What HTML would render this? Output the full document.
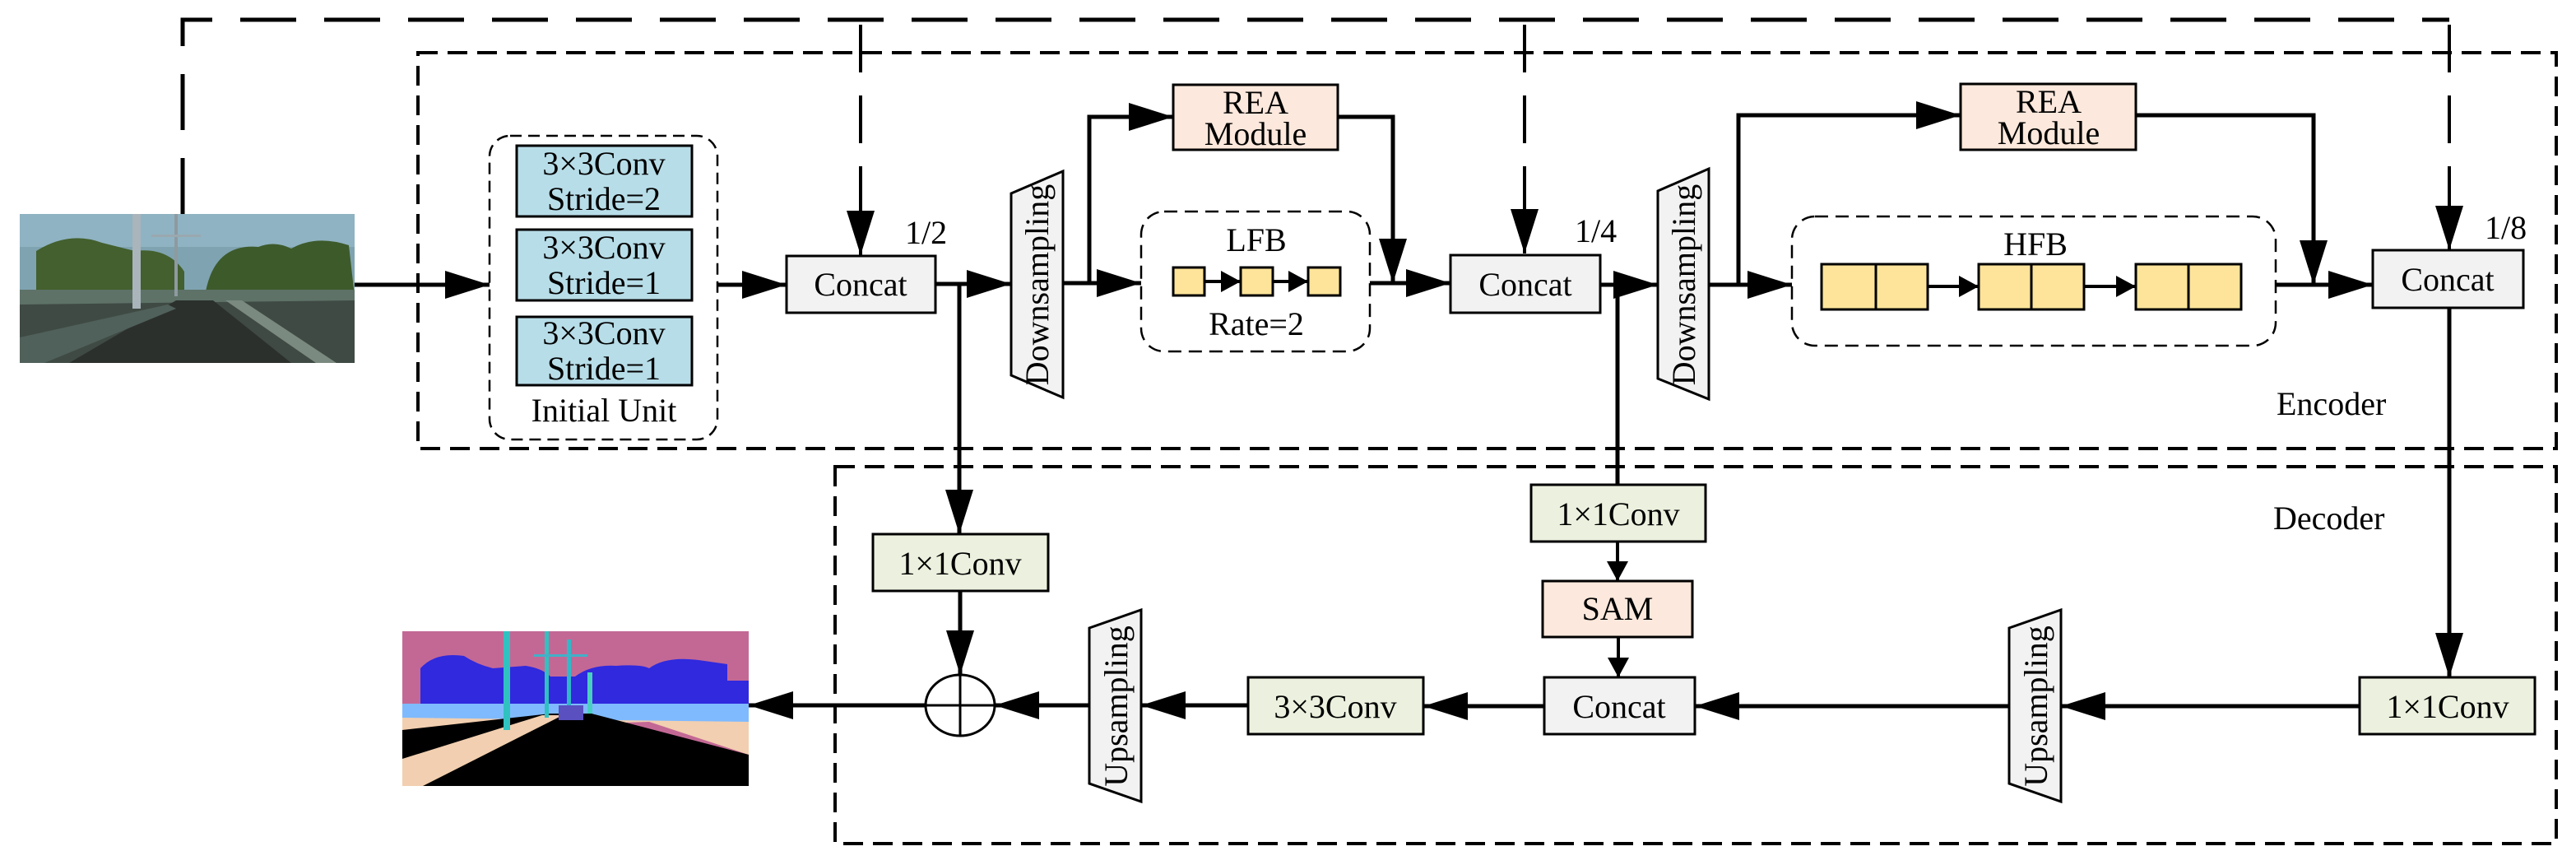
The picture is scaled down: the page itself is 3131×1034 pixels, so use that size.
<!DOCTYPE html>
<html><head><meta charset="utf-8"><style>
html,body{margin:0;padding:0;background:#fff;}
svg{display:block;}
svg text{font-family:"Liberation Serif","Times New Roman",serif;font-size:40px;fill:#000;}
</style></head><body>
<svg width="3131" height="1034" viewBox="0 0 3131 1034" xmlns="http://www.w3.org/2000/svg" font-family="Liberation Serif, serif">
<defs>
<marker id="A" markerUnits="userSpaceOnUse" markerWidth="56" markerHeight="34" refX="54" refY="17" orient="auto"><path d="M0,0 L54,17 L0,34 Z" fill="#000"/></marker>
<marker id="S" markerUnits="userSpaceOnUse" markerWidth="26" markerHeight="26" refX="24" refY="13" orient="auto"><path d="M0,0 L24,13 L0,26 Z" fill="#000"/></marker>
</defs>

<!-- input image -->
<g transform="translate(24,260)">
<rect width="407" height="181" fill="#7fa3b0"/>
<rect y="0" width="407" height="40" fill="#8fb3c2"/>
<path d="M20,100 L20,45 Q60,20 100,35 L140,45 Q180,40 200,70 L200,100 Z" fill="#43602e"/>
<path d="M225,100 Q235,35 290,40 Q310,32 330,42 Q360,25 400,38 L407,100 Z" fill="#3d5a2b"/>
<rect x="0" y="92" width="407" height="25" fill="#5e7268"/>
<path d="M0,110 L407,105 L407,181 L0,181 Z" fill="#3f4a44"/>
<path d="M190,105 L235,105 L330,181 L60,181 Z" fill="#2c302d"/>
<path d="M250,105 L270,105 L385,181 L360,181 Z" fill="#7b8a80"/>
<path d="M0,150 L180,110 L190,115 L30,181 L0,181 Z" fill="#50605a"/>
<rect x="137" y="0" width="10" height="115" fill="#a9b5bb"/>
<rect x="188" y="0" width="4" height="100" fill="#8e9aa0"/>
<rect x="160" y="25" width="60" height="3" fill="#9aa8b0"/>
</g>
<!-- output image -->
<g transform="translate(489,767)">
<rect width="421" height="188" fill="#c36895"/>
<path d="M22,100 L22,45 Q40,25 75,30 Q90,40 110,45 L150,42 Q170,45 180,55 L210,55 Q230,40 260,42 Q290,40 300,45 Q320,30 360,35 L395,40 L395,60 L421,60 L421,95 Z" fill="#3029de"/>
<rect x="0" y="88" width="421" height="22" fill="#7fbaff"/>
<path d="M0,105 L421,110 L421,150 L300,110 L0,120 Z" fill="#f2cfb0"/>
<path d="M0,120 L180,100 L230,100 L421,150 L421,188 L30,188 L0,188 Z" fill="#000"/>
<path d="M0,155 L170,102 L195,102 L25,188 L0,188 Z" fill="#f2cfb0"/>
<rect x="123" y="0" width="8" height="120" fill="#30c2c0"/>
<rect x="173" y="0" width="5" height="105" fill="#30c2c0"/>
<rect x="200" y="10" width="5" height="95" fill="#30b8c8"/>
<rect x="225" y="50" width="6" height="50" fill="#4ad0c0"/>
<rect x="160" y="28" width="65" height="3" fill="#42b0c8"/>
<rect x="190" y="90" width="30" height="18" fill="#5a50c0"/>
</g>

<path d="M222,260 V24 H2977" fill="none" stroke="#000" stroke-width="5" stroke-dasharray="68,34"/>
<path d="M1046,30 V250" stroke="#000" stroke-width="4" stroke-dasharray="58,28" fill="none"/>
<path d="M1853,30 V250" stroke="#000" stroke-width="4" stroke-dasharray="58,28" fill="none"/>
<path d="M2977,30 V250" stroke="#000" stroke-width="4" stroke-dasharray="58,28" fill="none"/>
<path d="M1046,250 V310" stroke="#000" stroke-width="4" marker-end="url(#A)"/>
<path d="M1853,250 V308" stroke="#000" stroke-width="4" marker-end="url(#A)"/>
<path d="M2977,250 V304" stroke="#000" stroke-width="4" marker-end="url(#A)"/>

<rect x="508" y="64" width="2599" height="481" fill="none" stroke="#000" stroke-width="4" stroke-dasharray="24,12"/>
<rect x="1015" y="567" width="2092" height="458" fill="none" stroke="#000" stroke-width="4" stroke-dasharray="24,12"/>
<text x="2767" y="504">Encoder</text>
<text x="2763" y="643">Decoder</text>

<rect x="595" y="165" width="277" height="369" rx="25" fill="none" stroke="#000" stroke-width="2.5" stroke-dasharray="14,8"/>
<g fill="#b7dde8" stroke="#000" stroke-width="3">
<rect x="628" y="177" width="213" height="86"/>
<rect x="628" y="279" width="213" height="86"/>
<rect x="628" y="385" width="213" height="83"/>
</g>
<g text-anchor="middle">
<text x="734" y="212">3×3Conv</text><text x="734" y="255">Stride=2</text>
<text x="734" y="314">3×3Conv</text><text x="734" y="357">Stride=1</text>
<text x="734" y="418">3×3Conv</text><text x="734" y="461">Stride=1</text>
<text x="734" y="512">Initial Unit</text>
</g>

<g stroke="#000" stroke-width="5" fill="none">
<path d="M431,346 H595" marker-end="url(#A)"/>
<path d="M872,346 H956" marker-end="url(#A)"/>
<path d="M1137,345 H1229" marker-end="url(#A)"/>
<path d="M1166,345 V649" marker-end="url(#A)"/>
<path d="M1292,344 H1387" marker-end="url(#A)"/>
<path d="M1324,344 V142 H1426" marker-end="url(#A)"/>
<path d="M1626,142 H1693 V344" marker-end="url(#A)"/>
<path d="M1665,344 H1763" marker-end="url(#A)"/>
<path d="M1945,346 H2015" marker-end="url(#A)"/>
<path d="M1966,346 V589"/>
<path d="M2077,346 H2178" marker-end="url(#A)"/>
<path d="M2113,346 V140 H2383" marker-end="url(#A)"/>
<path d="M2596,140 H2812 V346" marker-end="url(#A)"/>
<path d="M2766,346 H2884" marker-end="url(#A)"/>
<path d="M2977,374 V823" marker-end="url(#A)"/>
<path d="M2868,858 H2505" marker-end="url(#A)"/>
<path d="M2442,858 H2060" marker-end="url(#A)"/>
<path d="M1877,858 H1730" marker-end="url(#A)"/>
<path d="M1517,857 H1387" marker-end="url(#A)"/>
<path d="M1324,857 H1209" marker-end="url(#A)"/>
<path d="M1167,718 V820" marker-end="url(#A)"/>
<path d="M1125,857 H910" marker-end="url(#A)"/>
</g>
<g stroke="#000" stroke-width="4" fill="none">
<path d="M1966,658 V706" marker-end="url(#S)"/>
<path d="M1967,774 V823" marker-end="url(#S)"/>
<path d="M1464,342 H1508" marker-end="url(#S)"/>
<path d="M1547,342 H1590" marker-end="url(#S)"/>
<path d="M2343,348 H2405" marker-end="url(#S)"/>
<path d="M2533,348 H2596" marker-end="url(#S)"/>
</g>

<g fill="#f2f2f2" stroke="#000" stroke-width="3">
<rect x="956" y="311" width="181" height="69"/>
<rect x="1763" y="310" width="182" height="70"/>
<rect x="2884" y="304" width="183" height="70"/>
<rect x="1877" y="823" width="183" height="69"/>
</g>
<g text-anchor="middle">
<text x="1046" y="359">Concat</text>
<text x="1854" y="359">Concat</text>
<text x="2975" y="353">Concat</text>
<text x="1968" y="872">Concat</text>
</g>
<text x="1100" y="296">1/2</text>
<text x="1914" y="294">1/4</text>
<text x="3020" y="290">1/8</text>

<g fill="#f2f2f2" stroke="#000" stroke-width="3">
<path d="M1229,235 L1292,208 L1292,483 L1229,456 Z"/>
<path d="M2015,232 L2077,205 L2077,485 L2015,460 Z"/>
<path d="M1324,763 L1387,741 L1387,974 L1324,952 Z"/>
<path d="M2442,763 L2505,741 L2505,974 L2442,952 Z"/>
</g>
<g text-anchor="middle">
<text transform="translate(1274,346) rotate(-90)">Downsampling</text>
<text transform="translate(2060,346) rotate(-90)">Downsampling</text>
<text transform="translate(1370,858) rotate(-90)">Upsampling</text>
<text transform="translate(2488,858) rotate(-90)">Upsampling</text>
</g>

<g fill="#fce8dc" stroke="#000" stroke-width="3">
<rect x="1426" y="103" width="200" height="79"/>
<rect x="2383" y="102" width="213" height="80"/>
<rect x="1875" y="706" width="182" height="68"/>
</g>
<g text-anchor="middle">
<text x="1526" y="138">REA</text><text x="1526" y="176">Module</text>
<text x="2490" y="137">REA</text><text x="2490" y="175">Module</text>
<text x="1966" y="753">SAM</text>
</g>

<rect x="1387" y="257" width="278" height="170" rx="28" fill="none" stroke="#000" stroke-width="2.5" stroke-dasharray="16,9"/>
<g fill="#fde49a" stroke="#000" stroke-width="3">
<rect x="1426" y="325" width="38" height="34"/>
<rect x="1508" y="325" width="39" height="34"/>
<rect x="1590" y="325" width="39" height="34"/>
</g>
<g text-anchor="middle">
<text x="1527" y="305">LFB</text>
<text x="1527" y="407">Rate=2</text>
</g>

<rect x="2178" y="263" width="588" height="157" rx="28" fill="none" stroke="#000" stroke-width="2.5" stroke-dasharray="16,9"/>
<g fill="#fde49a" stroke="#000" stroke-width="3">
<rect x="2214" y="321" width="129" height="55"/><path d="M2280,321 V376"/>
<rect x="2405" y="321" width="128" height="55"/><path d="M2469,321 V376"/>
<rect x="2596" y="321" width="128" height="55"/><path d="M2660,321 V376"/>
</g>
<text x="2474" y="310" text-anchor="middle">HFB</text>

<g fill="#ebf1de" stroke="#000" stroke-width="3">
<rect x="1061" y="649" width="213" height="69"/>
<rect x="1861" y="589" width="212" height="69"/>
<rect x="1517" y="823" width="213" height="69"/>
<rect x="2868" y="823" width="213" height="69"/>
</g>
<g text-anchor="middle">
<text x="1167" y="698">1×1Conv</text>
<text x="1967" y="638">1×1Conv</text>
<text x="1623" y="872">3×3Conv</text>
<text x="2975" y="872">1×1Conv</text>
</g>

<ellipse cx="1167" cy="857" rx="42" ry="37" fill="#fff" stroke="#000" stroke-width="3"/>
<path d="M1125,857 H1209 M1167,820 V894" stroke="#000" stroke-width="3"/>
</svg>
</body></html>
